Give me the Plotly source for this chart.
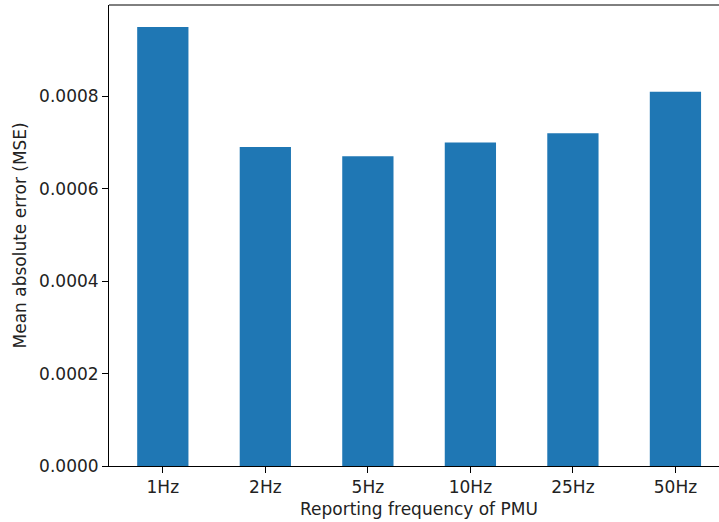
import plotly.graph_objects as go

# Reporting frequencies and the mean absolute error measured at each
frequencies = ["1Hz", "2Hz", "5Hz", "10Hz", "25Hz", "50Hz"]
mean_abs_error = [0.00095, 0.00069, 0.00067, 0.00070, 0.00072, 0.00081]
y_ticks = [0.0, 0.0002, 0.0004, 0.0006, 0.0008]

W, H = 719, 522
ML, MR, MT, MB = 109, 0, 5, 56
FONT = "DejaVu Sans"
FS = 17

positions = list(range(len(frequencies)))

fig = go.Figure(
    go.Bar(
        x=positions,
        y=mean_abs_error,
        width=0.5,
        marker=dict(color="#1f77b4", line=dict(width=0)),
        hoverinfo="skip",
    )
)

fig.update_layout(
    width=W,
    height=H,
    margin=dict(l=ML, r=MR, t=MT, b=MB, pad=0),
    paper_bgcolor="white",
    plot_bgcolor="white",
    showlegend=False,
    font=dict(family=FONT, size=FS, color="black"),
    xaxis=dict(
        range=[-0.525, 5.425],
        tickmode="array",
        tickvals=positions,
        ticktext=frequencies,
        ticks="outside",
        ticklen=6,
        tickwidth=1,
        tickcolor="black",
        showline=True,
        linecolor="black",
        linewidth=1,
        showgrid=False,
        zeroline=False,
        tickfont=dict(family=FONT, size=FS, color="#222"),
    ),
    yaxis=dict(
        range=[0, 0.0009975],
        tickmode="array",
        tickvals=y_ticks,
        tickformat=".4f",
        ticks="outside",
        ticklen=6,
        tickwidth=1,
        tickcolor="black",
        showline=True,
        linecolor="black",
        linewidth=1,
        showgrid=False,
        zeroline=False,
        tickfont=dict(family=FONT, size=FS, color="#222"),
    ),
    shapes=[
        dict(type="line", xref="paper", yref="paper", x0=0, x1=1, y0=1, y1=1,
             line=dict(color="black", width=1)),
    ],
    annotations=[
        dict(text="Reporting frequency of PMU", xref="x", yref="paper",
             x=2.5, y=-(509 - (H - MB)) / (H - MT - MB), showarrow=False,
             xanchor="center", yanchor="middle",
             font=dict(family=FONT, size=FS, color="#222")),
        dict(text="Mean absolute error (MSE)", xref="paper", yref="paper",
             x=(19 - ML) / (W - ML - MR), y=0.5, showarrow=False,
             textangle=-90, xanchor="center", yanchor="middle",
             font=dict(family=FONT, size=FS, color="#222")),
    ],
)

fig.write_html("out.html")
